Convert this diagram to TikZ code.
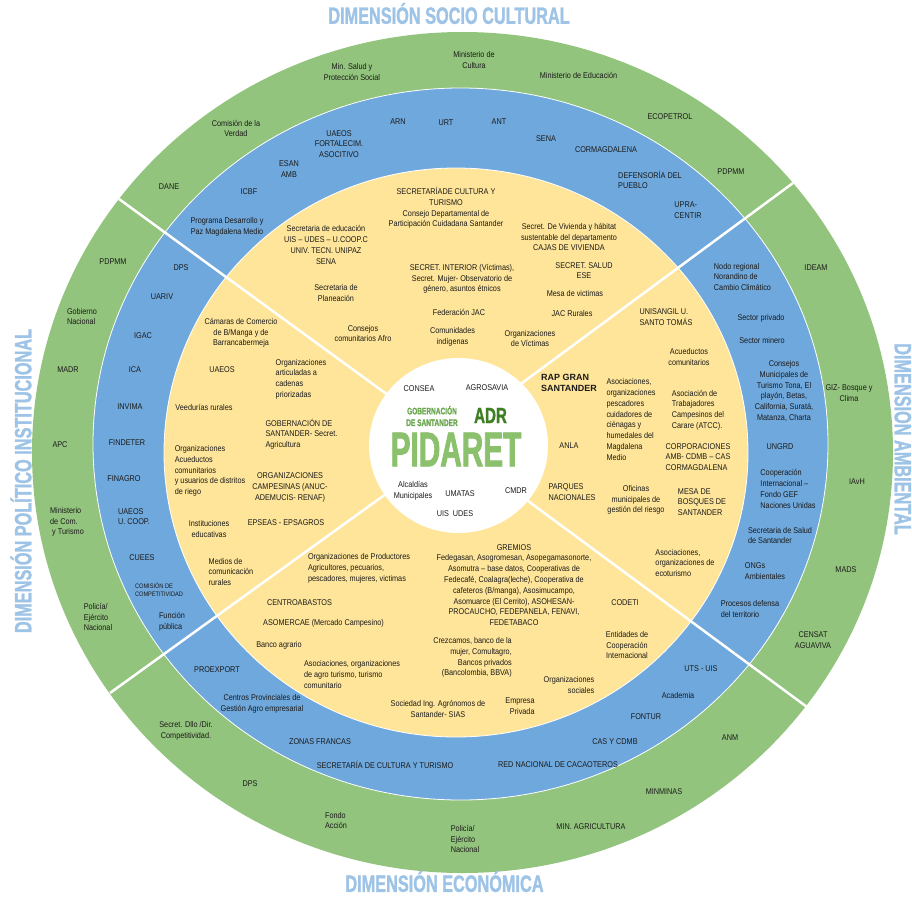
\documentclass[tikz,border=0pt]{standalone}
\usepackage{fontspec}
\setmainfont{Liberation Sans}[FakeStretch=0.87]
\newfontfamily\dimfont{Liberation Sans}[FakeStretch=0.69,FakeBold=1.2]
\newfontfamily\logofont{Liberation Sans}[FakeStretch=0.61,FakeBold=1.5]
\newfontfamily\plainfont{Liberation Sans}
\definecolor{ringgreen}{HTML}{93C47D}
\definecolor{ringblue}{HTML}{6FA8DC}
\definecolor{ringyellow}{HTML}{FFE599}
\definecolor{dimblue}{HTML}{9DC3E6}
\definecolor{logogreen}{HTML}{8BC16D}
\definecolor{govgreen}{HTML}{6AA84F}
\definecolor{adrgreen}{HTML}{3F7F24}
\definecolor{ink}{HTML}{1A1A1A}
\tikzset{
  lbl/.style={font=\fontsize{8.4}{10.8}\selectfont, text=ink, align=center, inner sep=0pt},
  lbll/.style={lbl, align=left},
  lblr/.style={lbl, align=right},
  smalllbl/.style={lbl, align=left, font=\fontsize{6.5}{8.4}\selectfont},
  dimtitle/.style={font=\dimfont\bfseries\fontsize{23.7}{26}\selectfont, text=dimblue, inner sep=0pt},
  divider/.style={white, line width=2.5bp},
  ringline/.style={draw=white, line width=0.8bp},
}
\begin{document}
\begin{tikzpicture}[x=1bp,y=-1bp]
  \fill[white] (0,0) rectangle (912,898);
  \useasboundingbox (0,0) rectangle (912,898);
  % rings
  \fill[ringgreen] (462.5,452.5) ellipse [x radius=430.5bp, y radius=420.5bp];
  \filldraw[fill=ringblue, ringline] (460.5,444) ellipse [x radius=367.5bp, y radius=356bp];
  \filldraw[fill=ringyellow, ringline] (456,452.5) ellipse [x radius=292bp, y radius=284.5bp];
  % dividers
  \coordinate (ul-out) at (119,199);  \coordinate (ul-in) at (392,398);
  \coordinate (ur-out) at (793,183);  \coordinate (ur-in) at (518,386);
  \coordinate (lr-out) at (807,707);  \coordinate (lr-in) at (524,498);
  \coordinate (ll-out) at (110,693);  \coordinate (ll-in) at (390,491);
  \foreach \s in {ul,ur,lr,ll} {
    \draw[divider] (\s-in) -- (\s-out);
  }
  \fill[white] (458.5,445.5) ellipse [x radius=89.5bp, y radius=87.5bp];

  % dimension titles
  \node[dimtitle] (t-socio) at (449,13.5) {DIMENSIÓN SOCIO CULTURAL};
  \node[dimtitle] (t-econ) at (444.5,881.5) {DIMENSIÓN ECONÓMICA};
  \node[dimtitle, rotate=90] (t-polit) at (21,481) {DIMENSIÓN POLÍTICO INSTITUCIONAL};
  \node[dimtitle, rotate=-90] (t-amb) at (905,439) {DIMENSIÓN AMBIENTAL};

  % outer ring (green)
  \node[lbl] (g-cultura) at (474,60) {Ministerio de\\Cultura};
  \node[lbl] (g-salud) at (352,72) {Min. Salud y\\Protección Social};
  \node[lbl] (g-educ) at (578.5,75) {Ministerio de Educación};
  \node[lbl] (g-ecop) at (670,117) {ECOPETROL};
  \node[lbl] (g-verdad) at (236,128.5) {Comisión de la\\Verdad};
  \node[lbl] (g-pdpmm1) at (731,172) {PDPMM};
  \node[lbl] (g-dane) at (169,187) {DANE};
  \node[lbl] (g-pdpmm2) at (113,262) {PDPMM};
  \node[lbl] (g-ideam) at (816,268) {IDEAM};
  \node[lbll] (g-gob) at (82,316.5) {Gobierno\\Nacional};
  \node[lbl] (g-madr) at (68,370) {MADR};
  \node[lbl] (g-giz) at (849,393) {GIZ- Bosque y\\Clima};
  \node[lbl] (g-apc) at (60,445) {APC};
  \node[lbl] (g-iavh) at (857,482) {IAvH};
  \node[lbll] (g-mincom) at (67,522) {Ministerio\\de Com.\\\ y Turismo};
  \node[lbl] (g-mads) at (846,570) {MADS};
  \node[lbll] (g-policia1) at (98,617) {Policía/\\Ejército\\Nacional};
  \node[lbl] (g-censat) at (813,640) {CENSAT\\AGUAVIVA};
  \node[lbl] (g-secret) at (186,731) {Secret. Dllo /Dir.\\Competitividad.};
  \node[lbl] (g-anm) at (730,738) {ANM};
  \node[lbl] (g-dps) at (250,784) {DPS};
  \node[lbl] (g-minminas) at (664,792) {MINMINAS};
  \node[lbll] (g-fondo) at (336,820.5) {Fondo\\Acción};
  \node[lbl] (g-minagri) at (591,827) {MIN. AGRICULTURA};
  \node[lbll] (g-policia2) at (465,839) {Policía/\\Ejército\\Nacional};

  % middle ring (blue)
  \node[lbl] (b-uaeos) at (339,144) {UAEOS\\FORTALECIM.\\ASOCITIVO};
  \node[lbl] (b-arn) at (398,122) {ARN};
  \node[lbl] (b-urt) at (446,123) {URT};
  \node[lbl] (b-ant) at (499,122) {ANT};
  \node[lbl] (b-sena) at (546,139) {SENA};
  \node[lbl] (b-cormag) at (606,150) {CORMAGDALENA};
  \node[lbl] (b-esan) at (289,169) {ESAN\\AMB};
  \node[lbll] (b-defens) at (650,180) {DEFENSORÍA DEL\\PUEBLO};
  \node[lbl] (b-icbf) at (249,192) {ICBF};
  \node[lbll] (b-upra) at (688,210.5) {UPRA-\\CENTIR};
  \node[lbl] (b-programa) at (227,227) {Programa Desarrollo y\\Paz Magdalena Medio};
  \node[lbl] (b-dps) at (181,268) {DPS};
  \node[lbll] (b-nodo) at (742.5,277) {Nodo regional\\Norandino de\\Cambio Climático};
  \node[lbl] (b-uariv) at (162,297) {UARIV};
  \node[lbl] (b-privado) at (761,318) {Sector privado};
  \node[lbl] (b-igac) at (143,336) {IGAC};
  \node[lbl] (b-minero) at (762,341) {Sector minero};
  \node[lbl] (b-ica) at (135,370) {ICA};
  \node[lbl] (b-consejos) at (784,391) {Consejos\\Municipales de\\Turismo Tona, El\\playón, Betas,\\California, Suratá,\\Matanza, Charta};
  \node[lbl] (b-invima) at (130,407) {INVIMA};
  \node[lbl] (b-findeter) at (127,443) {FINDETER};
  \node[lbl] (b-ungrd) at (780,447) {UNGRD};
  \node[lbl] (b-finagro) at (124,479) {FINAGRO};
  \node[lbll] (b-coop) at (788,489) {Cooperación\\Internacional –\\Fondo GEF\\Naciones Unidas};
  \node[lbll] (b-uaeos2) at (134,516.5) {UAEOS\\U. COOP.};
  \node[lbll] (b-salud) at (780,535.5) {Secretaria de Salud\\de Santander};
  \node[lbl] (b-cuees) at (142,558) {CUEES};
  \node[lbll] (b-ongs) at (765,571) {ONGs\\Ambientales};
  \node[smalllbl] (b-comision) at (159,590) {COMISIÓN DE\\COMPETITIVIDAD};
  \node[lbll] (b-funcion) at (172,622) {Función\\pública};
  \node[lbll] (b-procesos) at (750,609) {Procesos defensa\\del territorio};
  \node[lbl] (b-proexport) at (217,670) {PROEXPORT};
  \node[lbl] (b-uts) at (701,669) {UTS - UIS};
  \node[lbl] (b-centros) at (262,704) {Centros Provinciales de\\Gestión Agro empresarial};
  \node[lbl] (b-academia) at (678,696) {Academia};
  \node[lbl] (b-fontur) at (646,717) {FONTUR};
  \node[lbl] (b-zonas) at (320,742) {ZONAS FRANCAS};
  \node[lbl] (b-cas) at (615,742) {CAS Y CDMB};
  \node[lbl] (b-secult) at (385,765) {SECRETARÍA DE CULTURA Y TURISMO};
  \node[lbl] (b-cacao) at (558,765) {RED NACIONAL DE CACAOTEROS};

  % inner ring (yellow)
  \node[lbl] (y-cultura) at (446,208) {SECRETARÍADE CULTURA Y\\TURISMO\\Consejo Departamental de\\Participación Cuidadana Santander};
  \node[lbl] (y-educ) at (326,245) {Secretaria de educación\\UIS – UDES – U.COOP.C\\UNIV. TECN. UNIPAZ\\SENA};
  \node[lbl] (y-vivienda) at (569,237) {Secret. De Vivienda y hábitat\\sustentable del departamento\\CAJAS DE VIVIENDA};
  \node[lbl] (y-salud) at (584,270.5) {SECRET. SALUD\\ESE};
  \node[lbl] (y-interior) at (462,279) {SECRET. INTERIOR (Víctimas),\\Secret. Mujer- Observatorio de\\género, asuntos étnicos};
  \node[lbl] (y-planea) at (336,293) {Secretaria de\\Planeación};
  \node[lbl] (y-mesa) at (575,294) {Mesa de victimas};
  \node[lbl] (y-fedjac) at (459,312) {Federación JAC};
  \node[lbl] (y-jac) at (572,314) {JAC Rurales};
  \node[lbl] (y-afro) at (363,333.5) {Consejos\\comunitarios Afro};
  \node[lbl] (y-indig) at (452.5,337) {Comunidades\\indígenas};
  \node[lbl] (y-victimas) at (530,338.5) {Organizaciones\\de Víctimas};
  \node[lbl] (y-camaras) at (241,333) {Cámaras de Comercio\\de B/Manga y de\\Barrancabermeja};
  \node[lbll] (y-unisangil) at (666,317) {UNISANGIL U.\\SANTO TOMÁS};
  \node[lbl] (y-acued) at (689,357) {Acueductos\\comunitarios};
  \node[lbl] (y-uaeos) at (222,370) {UAEOS};
  \node[lbll] (y-cadenas) at (301,379) {Organizaciones\\articuladas a\\cadenas\\priorizadas};
  \node[lbll, font=\plainfont\bfseries\fontsize{9}{11}\selectfont] (y-rap) at (569,383) {RAP GRAN\\SANTANDER};
  \node[lbl] (y-veedurias) at (204,407) {Veedurías rurales};
  \node[lbll] (y-pescadores) at (631,419.5) {Asociaciones,\\organizaciones\\pescadores\\cuidadores de\\ciénagas y\\humedales del\\Magdalena\\Medio};
  \node[lbll] (y-atcc) at (698,410) {Asociación de\\Trabajadores\\Campesinos del\\Carare (ATCC).};
  \node[lbll] (y-gobsec) at (301.5,434) {GOBERNACIÓN DE\\SANTANDER- Secret.\\Agricultura};
  \node[lbl] (y-anla) at (569,446) {ANLA};
  \node[lbll] (y-corp) at (698,457) {CORPORACIONES\\AMB- CDMB – CAS\\CORMAGDALENA};
  \node[lbll] (y-acuedorg) at (210,471) {Organizaciones\\Acueductos\\comunitarios\\y usuarios de distritos\\de riego};
  \node[lbl] (y-campes) at (290,487.5) {ORGANIZACIONES\\CAMPESINAS (ANUC-\\ADEMUCIS- RENAF)};
  \node[lbll] (y-parques) at (572,492) {PARQUES\\NACIONALES};
  \node[lbl] (y-oficinas) at (636,500) {Oficinas\\municipales de\\gestión del riesgo};
  \node[lbll] (y-bosques) at (702,502) {MESA DE\\BOSQUES DE\\SANTANDER};
  \node[lbl] (y-epseas) at (286,523) {EPSEAS - EPSAGROS};
  \node[lbl] (y-instit) at (209,529) {Instituciones\\educativas};
  \node[lbll] (y-medios) at (231,572) {Medios de\\comunicación\\rurales};
  \node[lbll] (y-ecotur) at (685,563) {Asociaciones,\\organizaciones de\\ecoturismo};
  \node[lbll] (y-product) at (359,568.5) {Organizaciones de Productores\\Agricultores, pecuarios,\\pescadores, mujeres, victimas};
  \node[lbl] (y-gremios) at (514,585) {GREMIOS\\Fedegasan, Asogromesan, Asopegamasonorte,\\Asomutra – base datos, Cooperativas de\\Fedecafé, Coalagra(leche), Cooperativa de\\cafeteros (B/manga), Asosimucampo,\\Asomuarce (El Cerrito), ASOHESAN-\\PROCAUCHO, FEDEPANELA, FENAVI,\\FEDETABACO};
  \node[lbl] (y-centro) at (299.5,603) {CENTROABASTOS};
  \node[lbl] (y-codeti) at (625,603) {CODETI};
  \node[lbl] (y-asomercae) at (323.5,623) {ASOMERCAE (Mercado Campesino)};
  \node[lbl] (y-banco) at (279,645) {Banco agrario};
  \node[lbl] (y-entidades) at (627,645) {Entidades de\\Cooperación\\Internacional};
  \node[lblr] (y-crezcamos) at (472.5,657.5) {Crezcamos, banco de la\\mujer, Comultagro,\\Bancos privados\\(Bancolombia, BBVA)};
  \node[lbll] (y-agrotur) at (352,674.5) {Asociaciones, organizaciones\\de agro turismo, turismo\\comunitario};
  \node[lblr] (y-sociales) at (569,685) {Organizaciones\\sociales};
  \node[lbl] (y-sias) at (438,709) {Sociedad Ing. Agrónomos de\\Santander- SIAS};
  \node[lblr] (y-empresa) at (520,706.5) {Empresa\\Privada};

  % centre (white)
  \node[lbl] (c-consea) at (419,389) {CONSEA};
  \node[lbl] (c-agrosavia) at (487,388) {AGROSAVIA};
  \node[lbl, font=\dimfont\bfseries\fontsize{9.5}{11.7}\selectfont, text=govgreen] (c-gob) at (432,416) {GOBERNACIÓN\\DE SANTANDER};
  \node[lbl, font=\dimfont\bfseries\fontsize{22}{24}\selectfont, text=adrgreen] (c-adr) at (490.5,415.5) {ADR};
  \node[lbl, font=\logofont\bfseries\fontsize{49}{50}\selectfont, text=logogreen] (c-pidaret) at (456,449.5) {PIDARET};
  \node[lbl] (c-alcaldias) at (413,491) {Alcaldías\\Municipales};
  \node[lbl] (c-umatas) at (460,494) {UMATAS};
  \node[lbl] (c-cmdr) at (516,491) {CMDR};
  \node[lbl] (c-uis) at (455,514) {UIS~~UDES};
\end{tikzpicture}
\end{document}
